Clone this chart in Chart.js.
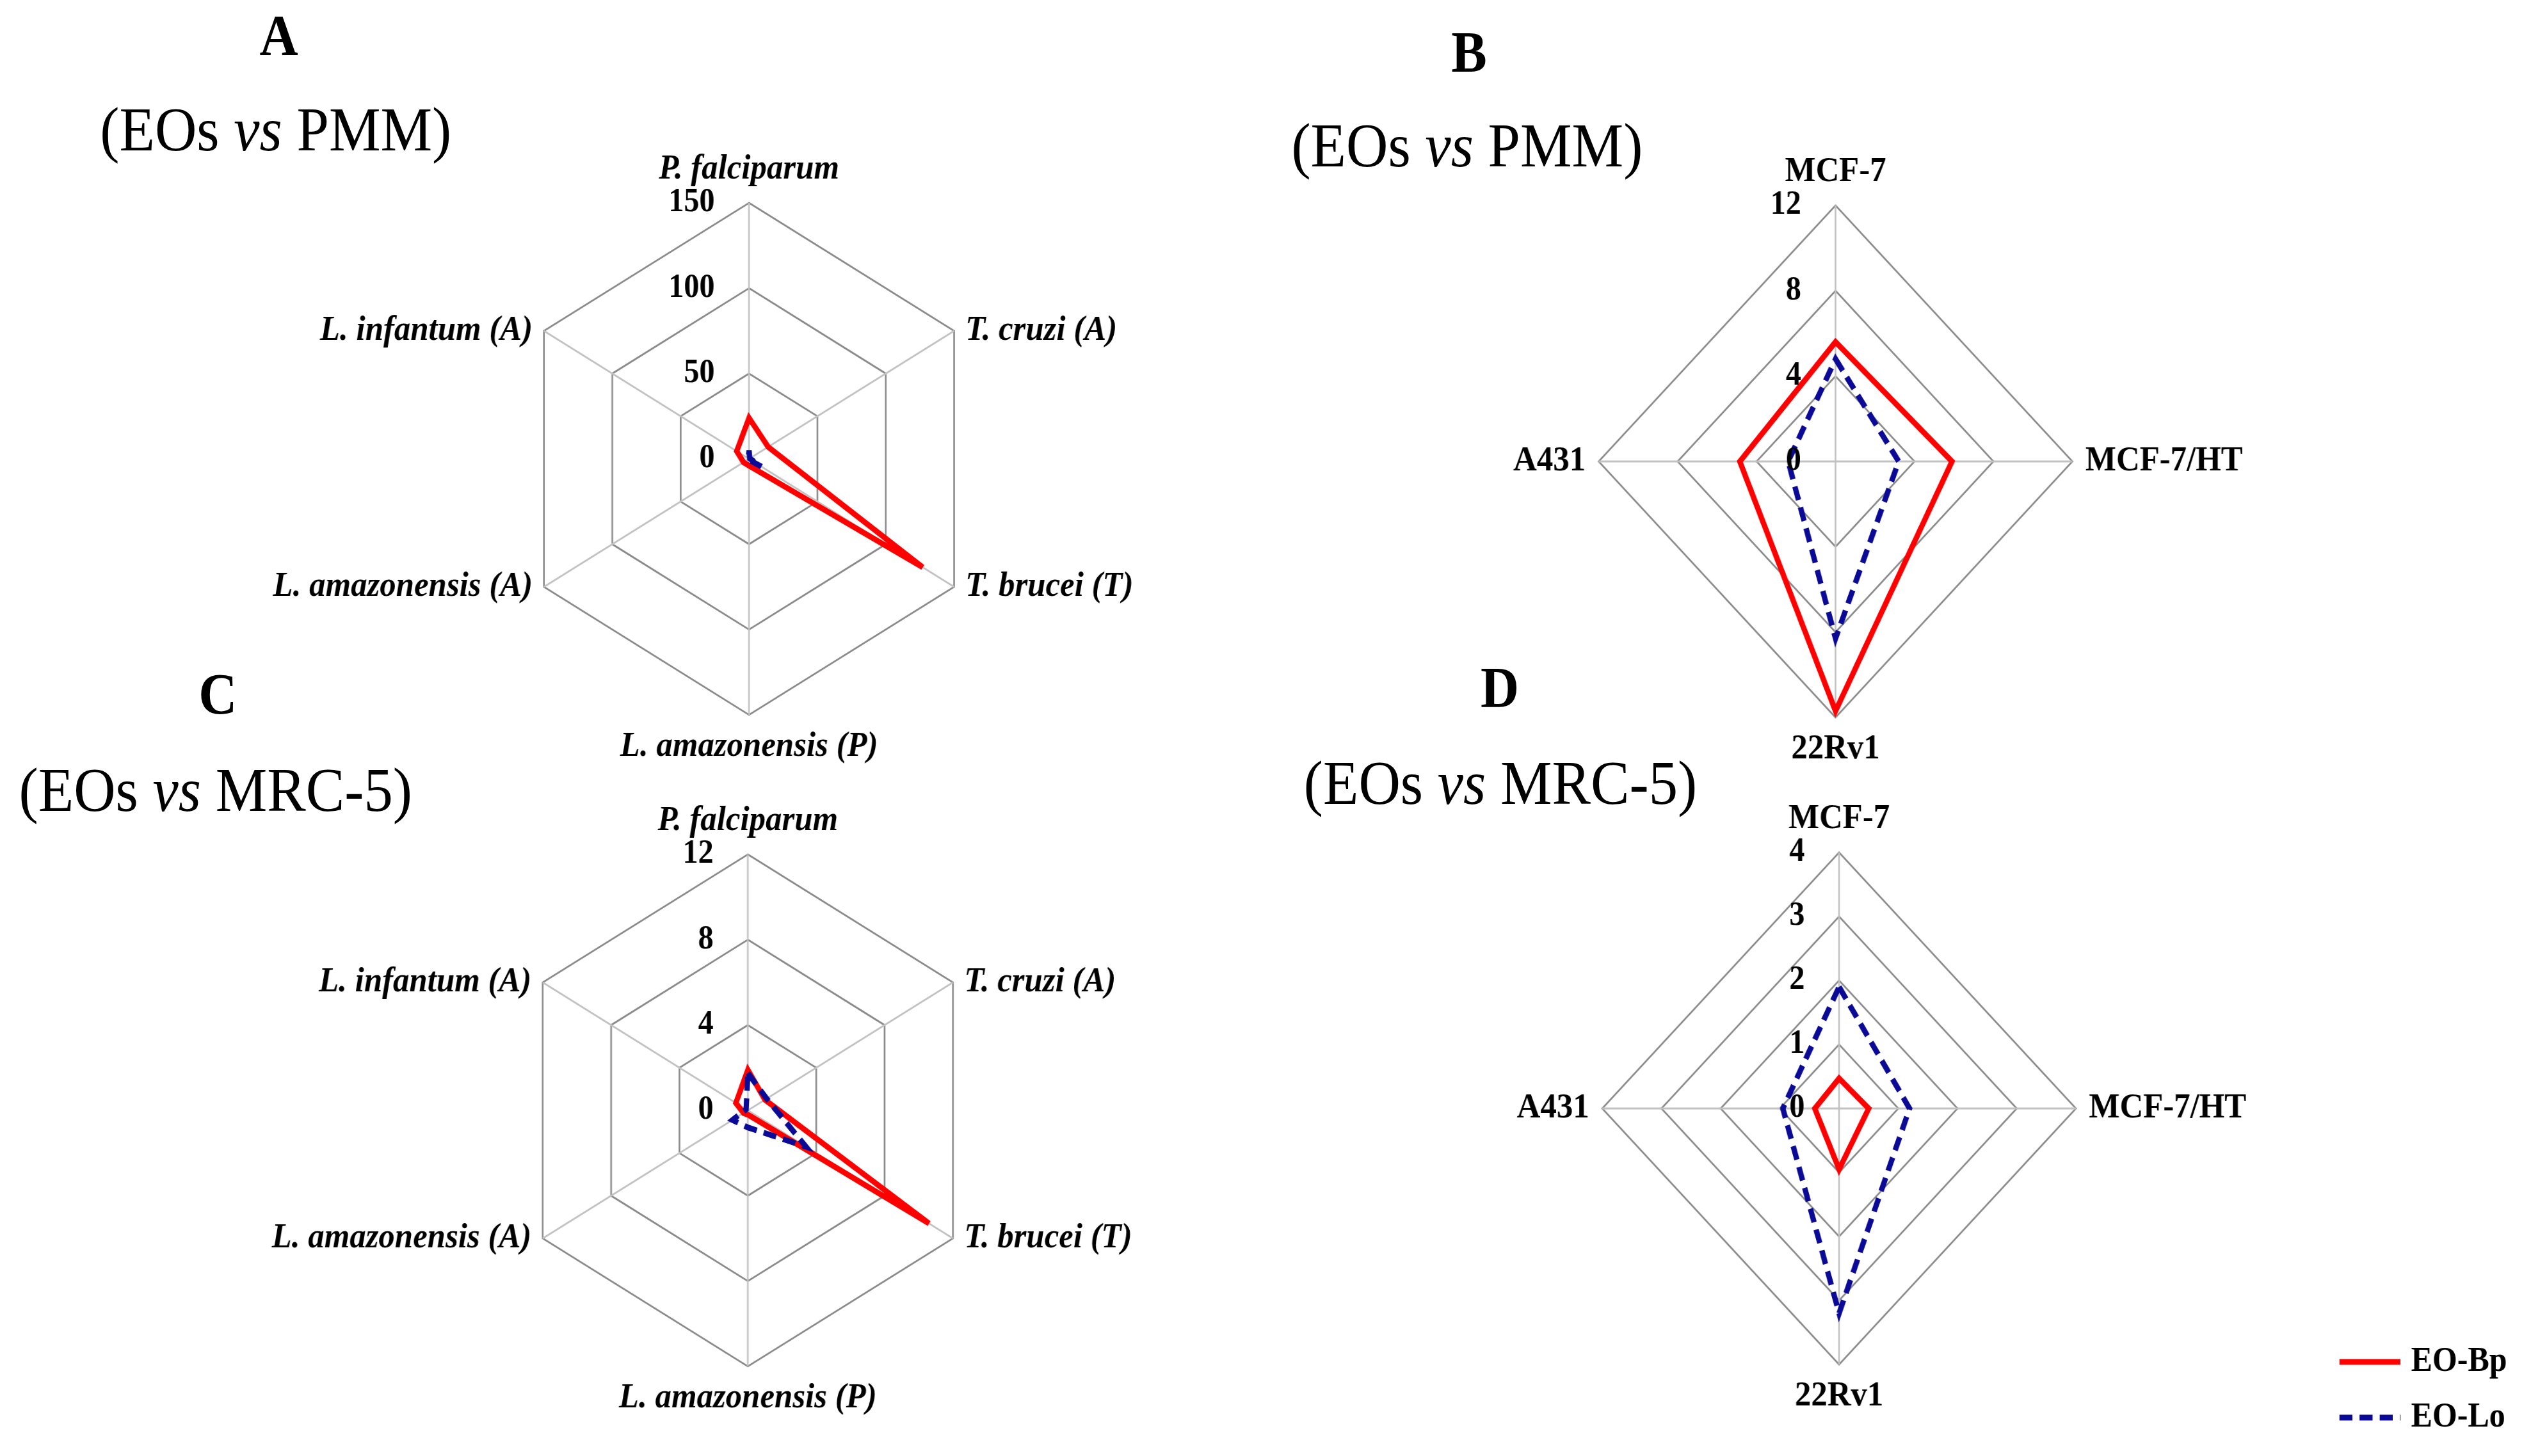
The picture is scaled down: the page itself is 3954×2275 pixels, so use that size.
<!DOCTYPE html>
<html><head><meta charset="utf-8">
<script src="https://cdn.jsdelivr.net/npm/chart.js@4.4.1/dist/chart.umd.min.js"></script>
<style>
html,body{margin:0;padding:0;background:#fff;overflow:hidden;width:3954px;height:2275px;}
#fig{position:absolute;left:0;top:0;width:4275px;height:2275px;transform:scaleX(0.925);transform-origin:0 0;}
.box{position:absolute;}
.box canvas{display:block;}
.t{position:absolute;white-space:nowrap;font-family:"Liberation Serif","Times New Roman",serif;color:#000;line-height:1;}
.letter{font-weight:bold;font-size:90px;transform:translate(-50%,-50%);}
.sub{font-size:98px;transform:translateY(-50%);}
</style></head><body>
<div id="fig">
  <div class="t letter" style="left:471px;top:56px">A</div>
  <div class="t letter" style="left:2481px;top:82px">B</div>
  <div class="t letter" style="left:368px;top:1085px">C</div>
  <div class="t letter" style="left:2533px;top:1075px">D</div>
  <div class="t sub" style="left:169px;top:202px">(EOs <i>vs</i> PMM)</div>
  <div class="t sub" style="left:2181px;top:227px">(EOs <i>vs</i> PMM)</div>
  <div class="t sub" style="left:32px;top:1234px">(EOs <i>vs</i> MRC-5)</div>
  <div class="t sub" style="left:2202px;top:1223px">(EOs <i>vs</i> MRC-5)</div>
  <div class="box" style="left:415px;top:197px"><canvas id="cA" width="1700" height="1040"></canvas></div>
  <div class="box" style="left:2250px;top:201px"><canvas id="cB" width="1700" height="1040"></canvas></div>
  <div class="box" style="left:413px;top:1215px"><canvas id="cC" width="1700" height="1040"></canvas></div>
  <div class="box" style="left:2256px;top:1212px"><canvas id="cD" width="2019" height="1063"></canvas></div>
</div>
<script>
// ---- data ----
const parasiteLabels = ['P. falciparum', 'T. cruzi (A)', 'T. brucei (T)', 'L. amazonensis (P)', 'L. amazonensis (A)', 'L. infantum (A)'];
const cancerLabels = ['MCF-7', 'MCF-7/HT', '22Rv1', 'A431'];
const seriesNames = ['EO-Bp', 'EO-Lo'];

// A: EOs vs PMM (parasites)
const aBp = [24, 14, 127, 4, 4, 9];
const aLo = [5, 0.5, 9, 0.5, 0.5, 0.5];
const aTicks = [0, 50, 100, 150];
// B: EOs vs PMM (cancer cells)
const bBp = [5.6, 5.9, 11.7, 4.85];
const bLo = [4.8, 3.2, 8.3, 2.4];
const bTicks = [0, 4, 8, 12];
// C: EOs vs MRC-5 (parasites)
const cBp = [1.9, 1.0, 10.6, 0.2, 0.25, 0.7];
const cLo = [1.75, 1.1, 3.4, 0.8, 0.9, 0.1];
const cTicks = [0, 4, 8, 12];
// D: EOs vs MRC-5 (cancer cells)
const dBp = [0.47, 0.5, 0.95, 0.41];
const dLo = [1.9, 1.19, 3.2, 0.95];
const dTicks = [0, 1, 2, 3, 4];

// ---- styles ----
const RED = '#ff0000';
const BLUE = '#0a0a96';
const SERIF = '"Liberation Serif", "Times New Roman", serif';

const deco = {
  id: 'deco',
  afterDraw(chart, args, opts) {
    const s = chart.scales.r;
    const ctx = chart.ctx;
    ctx.save();
    ctx.fillStyle = '#000';
    // tick labels, left of the vertical axis
    ctx.font = 'bold 52px ' + SERIF;
    ctx.textAlign = 'right';
    ctx.textBaseline = 'middle';
    s.ticks.forEach(t => {
      const d = s.getDistanceFromCenterForValue(t.value);
      ctx.fillText(t.label, s.xCenter - 58, s.yCenter - d);
    });
    // point labels
    ctx.font = (opts.italic ? 'italic ' : '') + 'bold 55px ' + SERIF;
    chart.data.labels.forEach((lab, i) => {
      const p = s.getPointPosition(i, s.drawingArea);
      const dx = p.x - s.xCenter, dy = p.y - s.yCenter;
      if (Math.abs(dx) < 1) {
        ctx.textAlign = 'center';
        ctx.fillText(lab, p.x, dy < 0 ? p.y - 52 : p.y + 50);
      } else if (dx > 0) {
        ctx.textAlign = 'left';
        ctx.fillText(lab, p.x + opts.gap, p.y);
      } else {
        ctx.textAlign = 'right';
        ctx.fillText(lab, p.x - opts.gap, p.y);
      }
    });
    // shared legend (drawn on chart D)
    if (opts.legend) {
      const L = opts.legend;
      ctx.font = 'bold 54px ' + SERIF;
      ctx.textAlign = 'left';
      chart.data.datasets.forEach((ds, i) => {
        const y = L.y[i];
        ctx.save();
        ctx.strokeStyle = ds.borderColor;
        ctx.lineWidth = ds.borderWidth;
        ctx.setLineDash(ds.borderDash || []);
        ctx.beginPath();
        ctx.moveTo(L.x1, y);
        ctx.lineTo(L.x2, y);
        ctx.stroke();
        ctx.restore();
        ctx.fillStyle = '#000';
        ctx.fillText(ds.label, L.tx, y);
      });
    }
    ctx.restore();
  }
};

function makeRadar(id, labels, bp, lo, ticks, pad, italic, legend) {
  return new Chart(document.getElementById(id), {
    type: 'radar',
    data: {
      labels: labels,
      datasets: [
        {label: seriesNames[0], data: bp, borderColor: RED, backgroundColor: 'rgba(0,0,0,0)',
         borderWidth: 9, fill: false, pointRadius: 0, pointHoverRadius: 0, borderJoinStyle: 'miter', order: 1},
        {label: seriesNames[1], data: lo, borderColor: BLUE, backgroundColor: 'rgba(0,0,0,0)',
         borderWidth: 9, borderDash: [22, 12], fill: false, pointRadius: 0, pointHoverRadius: 0, borderJoinStyle: 'miter', order: 0}
      ]
    },
    options: {
      responsive: false,
      animation: false,
      devicePixelRatio: 1,
      layout: {padding: pad},
      plugins: {
        legend: {display: false},
        tooltip: {enabled: false},
        deco: {italic: italic, gap: italic ? 19 : 22, legend: legend}
      },
      scales: {
        r: {
          min: ticks[0],
          max: ticks[ticks.length - 1],
          ticks: {stepSize: ticks[1] - ticks[0], display: false},
          pointLabels: {display: false},
          grid: {color: '#8a8a8a', lineWidth: 2.8},
          angleLines: {color: '#c2c2c2', lineWidth: 2.8}
        }
      }
    },
    plugins: [deco]
  });
}

const stdPad = {left: 450, right: 450, top: 120, bottom: 120};
makeRadar('cA', parasiteLabels, aBp, aLo, aTicks, stdPad, true, null);
makeRadar('cB', cancerLabels, bBp, bLo, bTicks, stdPad, false, null);
makeRadar('cC', parasiteLabels, cBp, cLo, cTicks, stdPad, true, null);
makeRadar('cD', cancerLabels, dBp, dLo, dTicks, {left: 450, right: 769, top: 120, bottom: 143}, false,
  {x1: 1695, x2: 1798, tx: 1816, y: [916, 1003]});
</script>
</body></html>
